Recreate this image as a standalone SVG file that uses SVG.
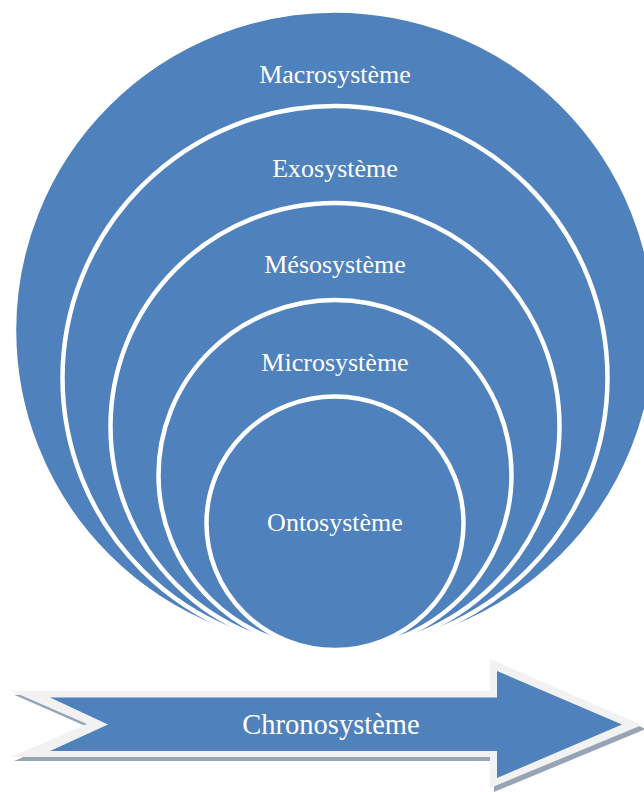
<svg xmlns="http://www.w3.org/2000/svg" width="644" height="792" viewBox="0 0 644 792">
<defs>
<style>
.ring{fill:#4f81bd;stroke:#ffffff;stroke-width:4.5}
.lbl{font-family:"Liberation Serif","Times New Roman",serif;fill:#ffffff;text-anchor:middle}
</style>
</defs>
<rect width="644" height="792" fill="#ffffff"/>
<g id="macrosysteme">
<ellipse class="ring" cx="335" cy="330.25" rx="321" ry="319.75"/>
<text class="lbl" x="335" y="83" font-size="26">Macrosystème</text>
</g>
<g id="exosysteme">
<ellipse class="ring" cx="335" cy="378" rx="272.5" ry="272"/>
<text class="lbl" x="335" y="176.5" font-size="26">Exosystème</text>
</g>
<g id="mesosysteme">
<ellipse class="ring" cx="335" cy="426.5" rx="224.5" ry="223.5"/>
<text class="lbl" x="335" y="273" font-size="26">Mésosystème</text>
</g>
<g id="microsysteme">
<ellipse class="ring" cx="335" cy="475" rx="176.5" ry="175"/>
<text class="lbl" x="335" y="370.5" font-size="26">Microsystème</text>
</g>
<g id="ontosysteme">
<ellipse class="ring" cx="335" cy="523.25" rx="128.5" ry="126.75"/>
<text class="lbl" x="335" y="530.5" font-size="26">Ontosystème</text>
</g>
<g id="connectors"></g>
<g id="chronosysteme">
<polygon points="14,694.7 494,694.7 494,663 646,729 494,792 494,761 14,761 90,728" fill="#97a4b6"/>
<polygon points="10.7,690.7 490,690.7 490,659 642,725 490,788 490,757 10.7,757 87,724" fill="#f2f2f2"/>
<polygon points="50,697.5 497,697.5 497,671 622,724.5 497,778 497,751 50,751 108,724.5" fill="#4f81bd"/>
<text class="lbl" x="331" y="734.3" font-size="28.5">Chronosystème</text>
</g>
</svg>
